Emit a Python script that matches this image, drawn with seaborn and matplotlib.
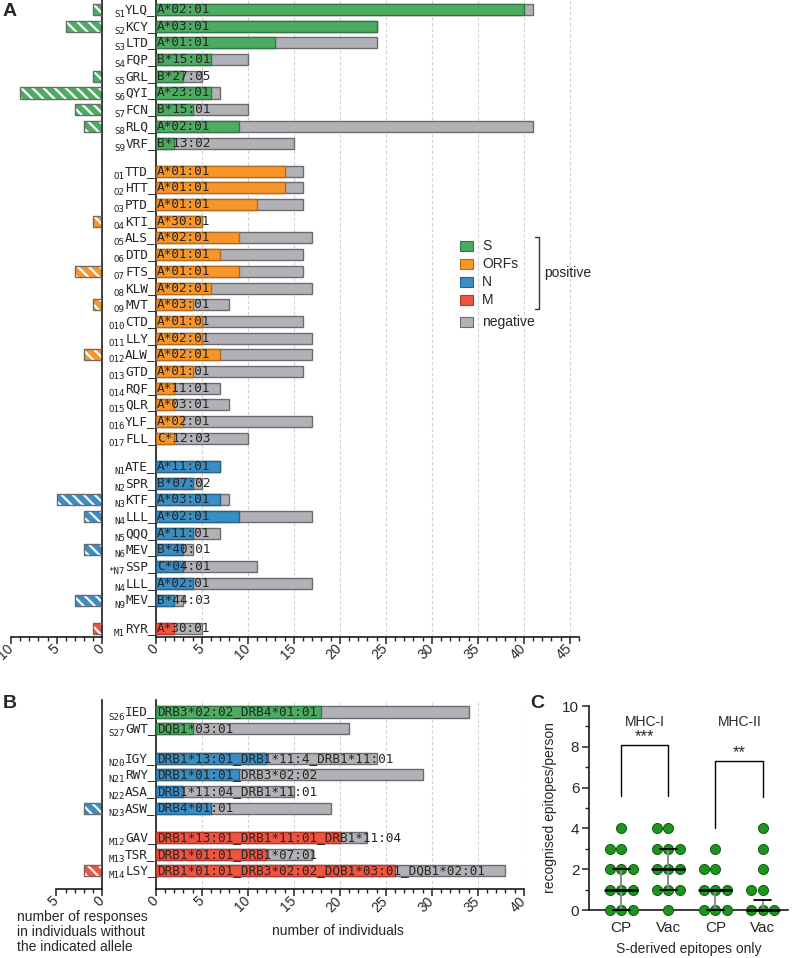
import matplotlib
matplotlib.use("Agg")
import numpy as np
import pandas as pd
import matplotlib.pyplot as plt
import seaborn as sns
from matplotlib.patches import Rectangle
from matplotlib.lines import Line2D
from matplotlib.ticker import MultipleLocator

# ---------------- data: panel A (MHC-I) ----------------
A_prefix = ['S1', 'S2', 'S3', 'S4', 'S5', 'S6', 'S7', 'S8', 'S9',
            'O1', 'O2', 'O3', 'O4', 'O5', 'O6', 'O7', 'O8', 'O9', 'O10', 'O11', 'O12', 'O13', 'O14', 'O15', 'O16', 'O17',
            'N1', 'N2', 'N3', 'N4', 'N5', 'N6', '*N7', 'N4', 'N9',
            'M1']
A_epitope = ['YLQ', 'KCY', 'LTD', 'FQP', 'GRL', 'QYI', 'FCN', 'RLQ', 'VRF',
             'TTD', 'HTT', 'PTD', 'KTI', 'ALS', 'DTD', 'FTS', 'KLW', 'MVT', 'CTD', 'LLY', 'ALW', 'GTD', 'RQF', 'QLR', 'YLF', 'FLL',
             'ATE', 'SPR', 'KTF', 'LLL', 'QQQ', 'MEV', 'SSP', 'LLL', 'MEV',
             'RYR']
A_allele = ['A*02:01', 'A*03:01', 'A*01:01', 'B*15:01', 'B*27:05', 'A*23:01', 'B*15:01', 'A*02:01', 'B*13:02',
            'A*01:01', 'A*01:01', 'A*01:01', 'A*30:01', 'A*02:01', 'A*01:01', 'A*01:01', 'A*02:01', 'A*03:01',
            'A*01:01', 'A*02:01', 'A*02:01', 'A*01:01', 'A*11:01', 'A*03:01', 'A*02:01', 'C*12:03',
            'A*11:01', 'B*07:02', 'A*03:01', 'A*02:01', 'A*11:01', 'B*40:01', 'C*04:01', 'A*02:01', 'B*44:03',
            'A*30:01']
A_protein = ['S'] * 9 + ['ORFs'] * 17 + ['N'] * 9 + ['M']
A_positive = [40, 24, 13, 6, 3, 6, 4, 9, 2,
              14, 14, 11, 5, 9, 7, 9, 6, 4, 5, 5, 7, 4, 2, 2, 3, 2,
              7, 4, 7, 9, 4, 3, 3, 4, 2,
              2]
A_total = [41, 24, 24, 10, 5, 7, 10, 41, 15,
           16, 16, 16, 5, 17, 16, 16, 17, 8, 16, 17, 17, 16, 7, 8, 17, 10,
           7, 5, 8, 17, 7, 4, 11, 17, 3,
           5]
A_without = [1, 4, 0, 0, 1, 9, 3, 2, 0,
             0, 0, 0, 1, 0, 0, 3, 0, 1, 0, 0, 2, 0, 0, 0, 0, 0,
             0, 0, 5, 2, 0, 2, 0, 0, 3,
             1]

# ---------------- data: panel B (MHC-II) ----------------
B_prefix = ['S26', 'S27', 'N20', 'N21', 'N22', 'N23', 'M12', 'M13', 'M14']
B_epitope = ['IED', 'GWT', 'IGY', 'RWY', 'ASA', 'ASW', 'GAV', 'TSR', 'LSY']
B_allele = ['DRB3*02:02_DRB4*01:01', 'DQB1*03:01', 'DRB1*13:01_DRB1*11:4_DRB1*11:01',
            'DRB1*01:01_DRB3*02:02', 'DRB1*11:04_DRB1*11:01', 'DRB4*01:01',
            'DRB1*13:01_DRB1*11:01_DRB1*11:04', 'DRB1*01:01_DRB1*07:01',
            'DRB1*01:01_DRB3*02:02_DQB1*03:01_DQB1*02:01']
B_protein = ['S', 'S', 'N', 'N', 'N', 'N', 'M', 'M', 'M']
B_positive = [18, 4, 12, 9, 3, 6, 20, 12, 26]
B_total = [34, 21, 24, 29, 15, 19, 23, 17, 38]
B_without = [0, 0, 0, 0, 0, 2, 0, 0, 2]

# ---------------- data: panel C ----------------
C_order = ['CP MHC-I', 'Vac MHC-I', 'CP MHC-II', 'Vac MHC-II']
C_ticklabels = ['CP', 'Vac', 'CP', 'Vac']
C_cp_I = [0, 0, 0, 1, 1, 1, 2, 2, 2, 3, 3, 4]
C_vac_I = [0, 1, 1, 1, 2, 2, 2, 3, 3, 3, 4, 4]
C_cp_II = [0, 0, 0, 1, 1, 1, 2, 2, 3]
C_vac_II = [0, 0, 0, 1, 1, 2, 3, 4]
C_median = [1, 2, 1, 0]
C_q1 = [0, 1, 0, 0]
C_q3 = [2, 3, 1, 0.5]

# ---------------- style ----------------
sns.set_style("ticks")
plt.rcParams["font.family"] = ["Liberation Sans", "DejaVu Sans"]
plt.rcParams["hatch.linewidth"] = 1.6

W, H = 794, 958
fig = plt.figure(figsize=(W / 100, H / 100), dpi=100)

COL = {'S': '#4dab62', 'ORFs': '#f7962a', 'N': '#3b8ec3', 'M': '#f1533f'}
EDG = {'S': '#2e7a40', 'ORFs': '#b5691a', 'N': '#23658e', 'M': '#b2392b'}
GREY = '#b2b1b7'
GREY_EDGE = '#6c6c6c'
MONO = 'DejaVu Sans Mono'
FS = 9.2
TICKFS = 10
PX = 16.7  # row spacing in px


def fax(x0, y0, x1, y1):
    return fig.add_axes([x0 / W, 1 - y1 / H, (x1 - x0) / W, (y1 - y0) / H])


def fpt(x, y):
    return (x / W, 1 - y / H)


def positions(groups, gap):
    pos, p, prev = [], 0.0, None
    for g in groups:
        if prev is not None:
            p += 1.0 if g == prev else 1.0 + gap
        pos.append(p)
        prev = g
    return pos


def style_axis(ax, major, minor):
    ax.xaxis.set_major_locator(MultipleLocator(major))
    ax.xaxis.set_minor_locator(MultipleLocator(minor))
    ax.tick_params(axis='x', which='major', length=5, width=1.1, color='#222222', labelsize=TICKFS, pad=2)
    ax.tick_params(axis='x', which='minor', length=3, width=1.0, color='#222222')
    ax.tick_params(axis='y', which='both', left=False, right=False, labelleft=False, labelright=False)
    for lab in ax.get_xticklabels():
        lab.set_rotation(45)
        lab.set_ha('right')
        lab.set_va('center')
        lab.set_rotation_mode('anchor')
    ax.set_xlabel('')
    ax.set_ylabel('')
    ax.patch.set_alpha(0)


def bar_panel(ax, axl, pos, prefix, epitope, allele, protein, positive, total, without,
              xmax, lmax, ylim):
    df = pd.DataFrame({'pos': pos, 'total': total, 'positive': positive,
                       'protein': protein, 'without': without})
    # grey: all tested (negative part visible)
    sns.barplot(data=df, x='total', y='pos', orient='y', native_scale=True, color=GREY,
                saturation=1, width=0.66, edgecolor=GREY_EDGE, linewidth=1.0,
                errorbar=None, ax=ax, zorder=2)
    # coloured: positive responders
    for prot in ['S', 'ORFs', 'N', 'M']:
        sub = df[df['protein'] == prot]
        if len(sub) == 0:
            continue
        sns.barplot(data=sub, x='positive', y='pos', orient='y', native_scale=True,
                    color=COL[prot], saturation=1, width=0.66, edgecolor=EDG[prot],
                    linewidth=1.0, errorbar=None, ax=ax, zorder=3)
    ax.set_xlim(0, xmax)
    ax.set_ylim(*ylim)
    ax.set_axisbelow(True)
    ax.xaxis.grid(True, which='major', linestyle=(0, (3, 2)), color='#d2d2d2', linewidth=0.8)
    sns.despine(ax=ax, top=True, right=True)
    for s in ['left', 'bottom']:
        ax.spines[s].set_linewidth(1.2)
        ax.spines[s].set_color('#1a1a1a')

    # hatched: responses in individuals without the allele
    for prot in ['S', 'ORFs', 'N', 'M']:
        sub = df[df['protein'] == prot]
        if len(sub) == 0:
            continue
        sns.barplot(data=sub, x='without', y='pos', orient='y', native_scale=True,
                    color=COL[prot], saturation=1, width=0.66, edgecolor='white',
                    linewidth=0, hatch='\\\\\\', errorbar=None, ax=axl, zorder=2)
        sns.barplot(data=sub, x='without', y='pos', orient='y', native_scale=True,
                    color='#6a6a6a', fill=False, width=0.66, linewidth=1.0,
                    errorbar=None, ax=axl, zorder=3)
    axl.set_xlim(lmax, 0)
    axl.set_ylim(*ylim)
    sns.despine(ax=axl, top=True, left=True, right=False)
    for s in ['right', 'bottom']:
        axl.spines[s].set_linewidth(1.2)
        axl.spines[s].set_color('#1a1a1a')

    name_w = 4 * 0.602 * FS
    for p, pre, ep, al in zip(pos, prefix, epitope, allele):
        ax.annotate(ep + '_', xy=(0, p), xytext=(0, 0), textcoords='offset points',
                    ha='right', va='center', family=MONO, fontsize=FS,
                    annotation_clip=False, zorder=6)
        ax.annotate(pre, xy=(0, p), xytext=(-name_w, -3.6), textcoords='offset points',
                    ha='right', va='center', family=MONO, fontsize=6.6, color='#222222',
                    annotation_clip=False, zorder=6)
        ax.annotate(al, xy=(0, p), xytext=(0.8, 0), textcoords='offset points',
                    ha='left', va='center', family=MONO, fontsize=FS,
                    annotation_clip=False, zorder=6)


# ---------------- Panel A ----------------
posA = positions(A_protein, 0.68)
ylimA = ((636.5 - 9.5) / PX, -9.5 / PX)
axA_l = fax(11, 0, 102.3, 636.5)
axA = fax(155.7, 0, 579, 636.5)
bar_panel(axA, axA_l, posA, A_prefix, A_epitope, A_allele, A_protein,
          A_positive, A_total, A_without, 46, 10, ylimA)
style_axis(axA, 5, 1)
axA.set_xlim(0, 46)
style_axis(axA_l, 5, 1)

# legend (drawn by hand)
leg = [('S', COL['S'], EDG['S'], 246), ('ORFs', COL['ORFs'], EDG['ORFs'], 264),
       ('N', COL['N'], EDG['N'], 282), ('M', COL['M'], EDG['M'], 300),
       ('negative', GREY, GREY_EDGE, 322)]
for lab, fc, ec, yc in leg:
    fig.add_artist(Rectangle(fpt(460, yc + 5), 13 / W, 10 / H, transform=fig.transFigure,
                             facecolor=fc, edgecolor=ec, linewidth=0.8))
    fig.text(*fpt(482, yc), lab, fontsize=10, va='center', ha='left')
bx = [535, 539, 539, 535]
by = [237, 237, 309, 309]
fig.add_artist(Line2D([x / W for x in bx], [1 - y / H for y in by], transform=fig.transFigure,
                      color='#333333', linewidth=1.0))
fig.text(*fpt(544, 273), 'positive', fontsize=10, va='center', ha='left')

# ---------------- Panel B ----------------
posB = positions(B_protein, 0.76)
ylimB = ((889 - 712) / PX, (700 - 712) / PX)
axB_l = fax(56.3, 700, 102.3, 889)
axB = fax(155.7, 700, 155.7 + 40 * 9.2, 889)
bar_panel(axB, axB_l, posB, B_prefix, B_epitope, B_allele, B_protein,
          B_positive, B_total, B_without, 40, 5, ylimB)
style_axis(axB, 5, 1)
axB.set_xlim(0, 40)
style_axis(axB_l, 5, 1)

fig.text(*fpt(338, 931), 'number of individuals', fontsize=10, ha='center', va='center')
fig.text(*fpt(17, 910), 'number of responses\nin individuals without\nthe indicated allele',
         fontsize=10, ha='left', va='top', linespacing=1.1)

# ---------------- Panel C ----------------
axC = fax(589, 706, 788, 910)
vals = C_cp_I + C_vac_I + C_cp_II + C_vac_II
grps = ([C_order[0]] * len(C_cp_I) + [C_order[1]] * len(C_vac_I) +
        [C_order[2]] * len(C_cp_II) + [C_order[3]] * len(C_vac_II))
dfc = pd.DataFrame({'grp': grps, 'val': vals})
sns.swarmplot(data=dfc, x='grp', y='val', order=C_order, color='#1f931f', size=7.2,
              edgecolor='#0b5c0b', linewidth=0.7, ax=axC, clip_on=False, zorder=3)
for i, (m, q1, q3) in enumerate(zip(C_median, C_q1, C_q3)):
    axC.plot([i, i], [q1, q3], color='#8c8c8c', lw=1.4, zorder=4, clip_on=False)
    axC.plot([i - 0.34, i + 0.34], [m, m], color='black', lw=1.8, zorder=5, clip_on=False)
    for q in (q1, q3):
        axC.plot([i - 0.18, i + 0.18], [q, q], color='black', lw=1.3, zorder=5, clip_on=False)
axC.set_xlim(-0.68, 3.54)
axC.set_ylim(0, 10)
axC.yaxis.set_major_locator(MultipleLocator(2))
axC.yaxis.set_minor_locator(MultipleLocator(1))
axC.tick_params(axis='y', which='major', length=5, width=1.1, labelsize=11, pad=2)
axC.tick_params(axis='y', which='minor', length=3, width=1.0)
axC.tick_params(axis='x', length=0, labelsize=11, pad=8)
axC.set_xticks(range(4))
axC.set_xticklabels(C_ticklabels)
sns.despine(ax=axC)
for s in ['left', 'bottom']:
    axC.spines[s].set_linewidth(1.2)
    axC.spines[s].set_color('#1a1a1a')
axC.set_ylabel('recognised epitopes/person', fontsize=10, labelpad=4)
axC.set_xlabel('S-derived epitopes only', fontsize=10, labelpad=5)
axC.patch.set_alpha(0)
# significance brackets
axC.plot([0, 0, 1, 1], [5.6, 8.1, 8.1, 5.6], color='black', lw=1.0, clip_on=False)
axC.text(0.5, 8.5, '***', ha='center', va='center', fontsize=12)
axC.plot([2, 2, 3, 3], [4.0, 7.3, 7.3, 5.55], color='black', lw=1.0, clip_on=False)
axC.text(2.5, 7.7, '**', ha='center', va='center', fontsize=12)
axC.text(0.51, 9.2, 'MHC-I', ha='center', va='center', fontsize=10)
axC.text(2.52, 9.2, 'MHC-II', ha='center', va='center', fontsize=10)

# panel letters
fig.text(*fpt(3, 11), 'A', fontsize=14, fontweight='bold', va='center', ha='left')
fig.text(*fpt(3, 703), 'B', fontsize=14, fontweight='bold', va='center', ha='left')
fig.text(*fpt(530, 703), 'C', fontsize=14, fontweight='bold', va='center', ha='left')

fig.savefig('out.png', dpi=100)
